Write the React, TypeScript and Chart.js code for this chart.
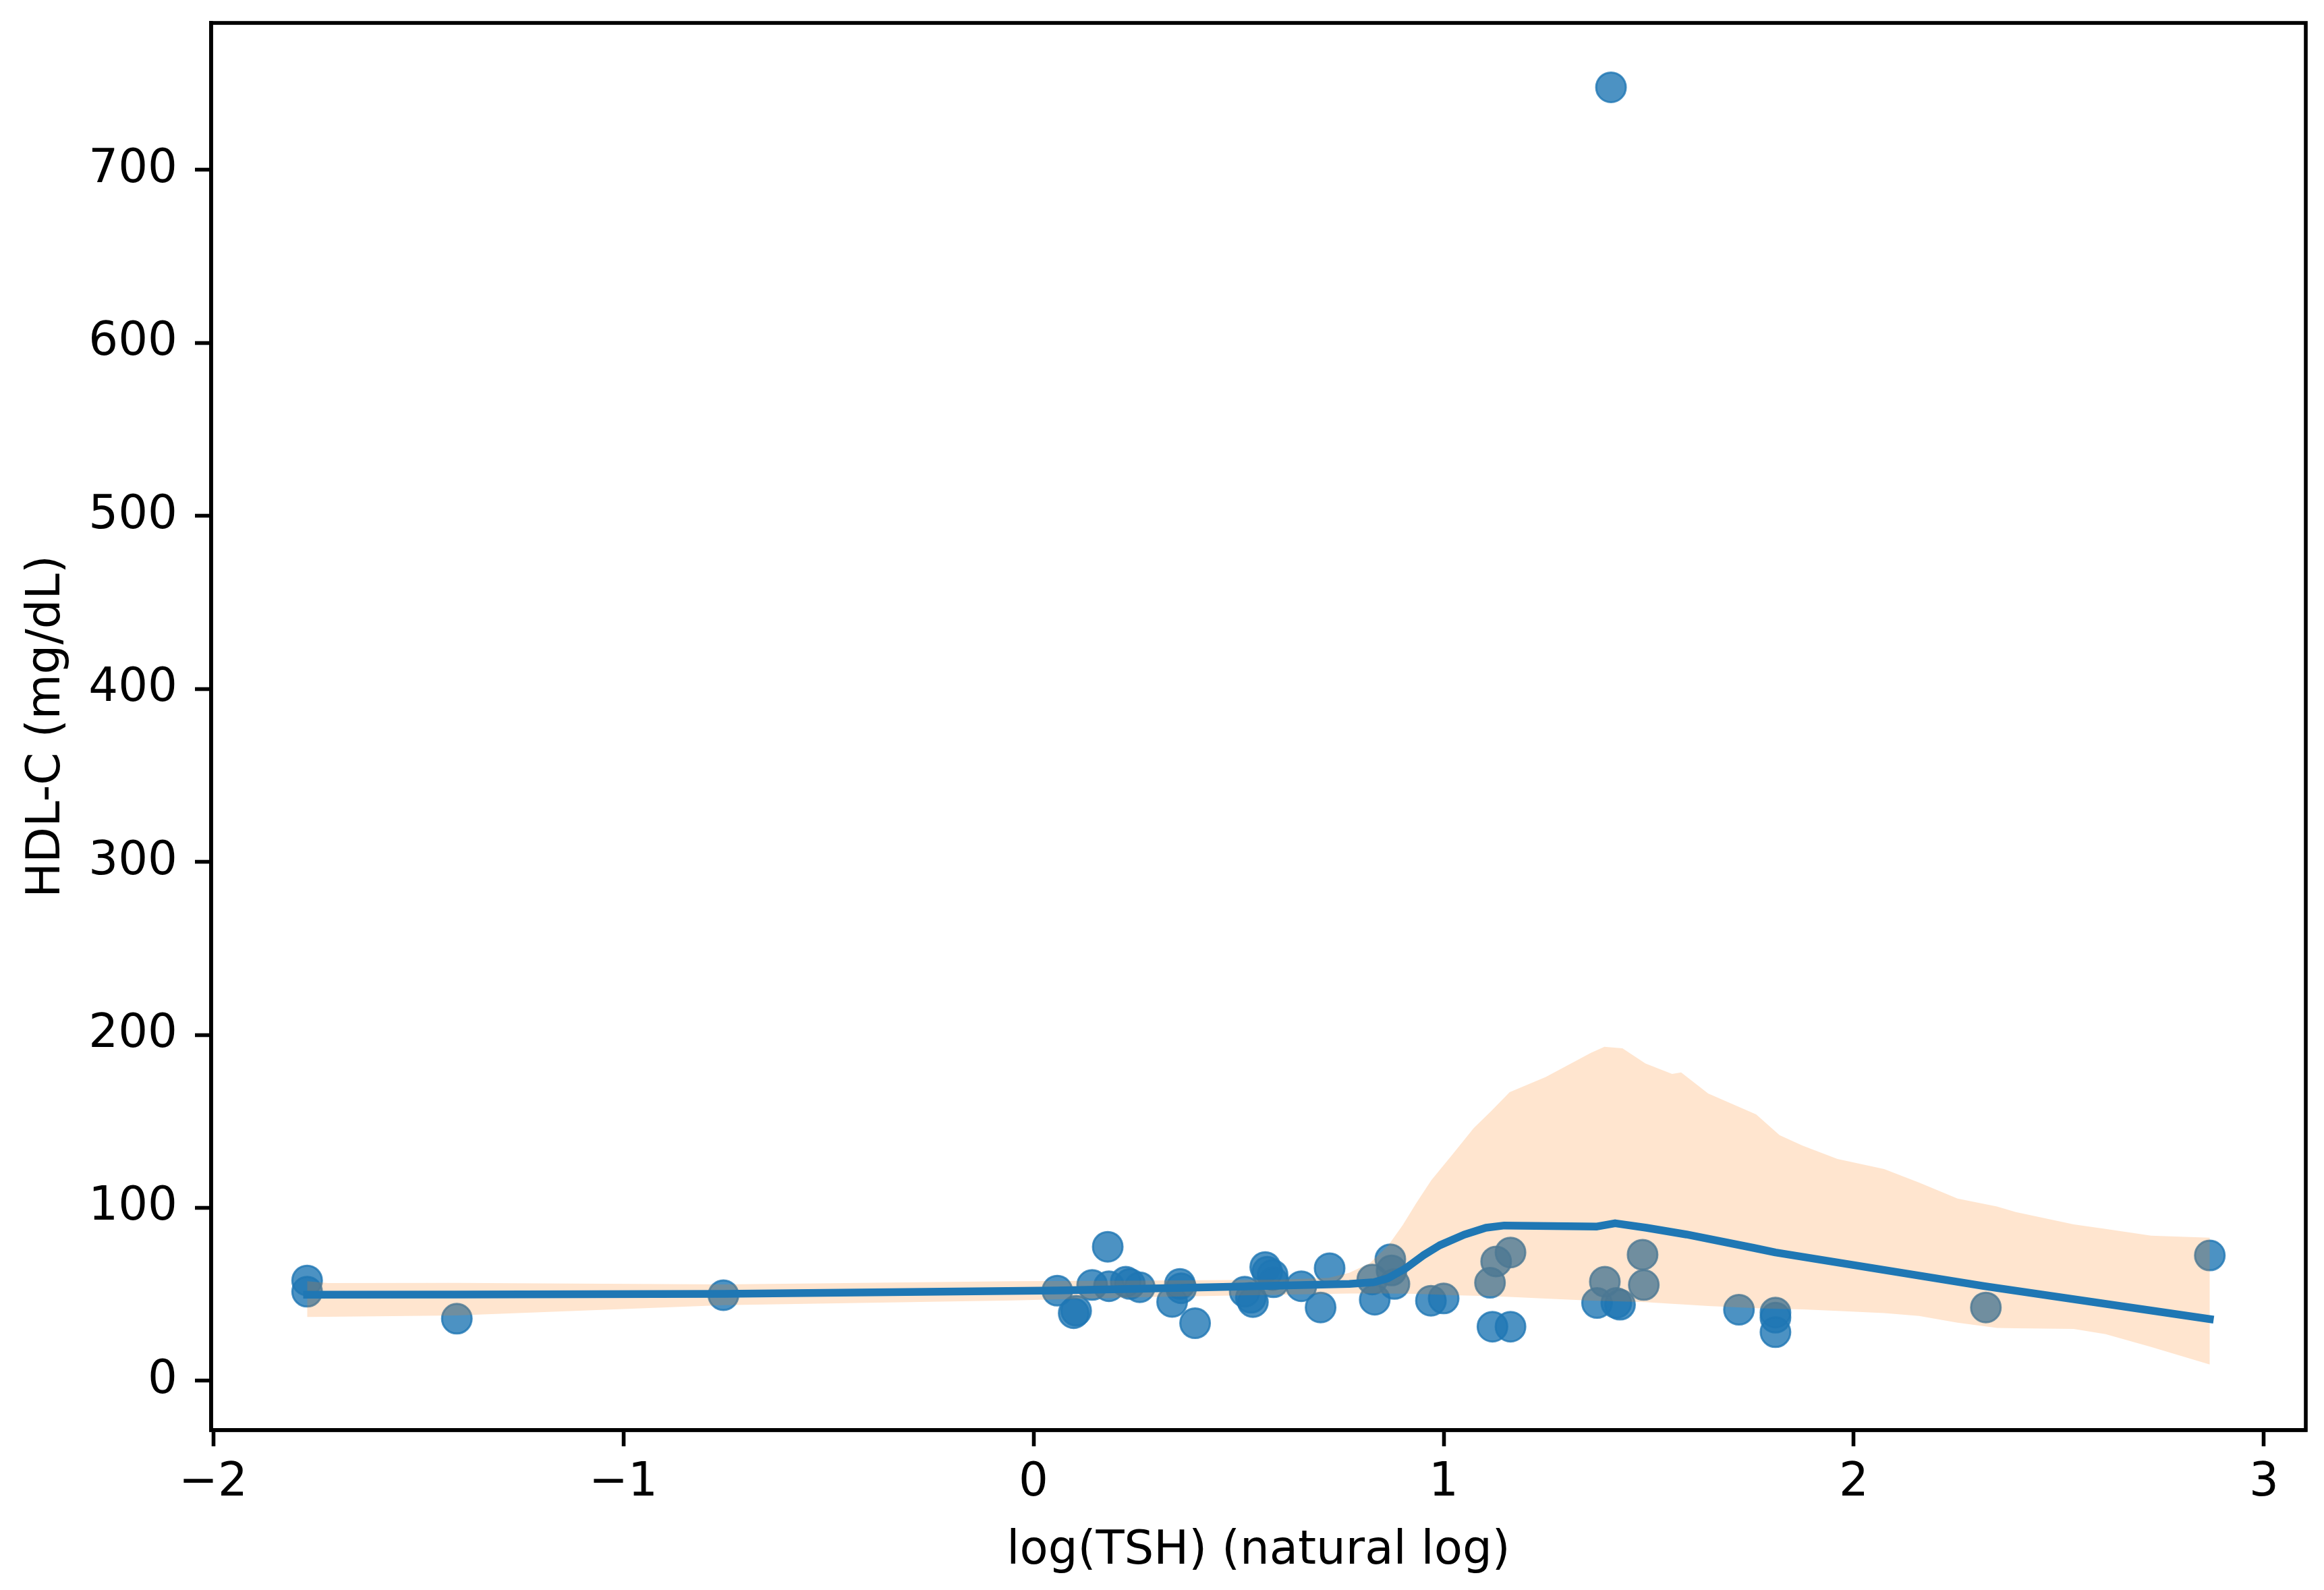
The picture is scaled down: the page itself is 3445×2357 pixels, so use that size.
import Chart from 'chart.js/auto'
import React, { useEffect, useRef } from 'react'

// scatter points: log(TSH) vs HDL-C
const tshLog = [
  -1.771, -1.771, -1.406, -0.756, 0.058, 0.098, 0.104, 0.143, 0.181, 0.184,
  0.225, 0.235, 0.259, 0.338, 0.357, 0.36, 0.394, 0.515, 0.53, 0.535,
  0.565, 0.57, 0.583, 0.585, 0.653, 0.7, 0.722, 0.826, 0.832, 0.87,
  0.873, 0.88, 0.969, 1.0, 1.113, 1.128, 1.119, 1.163, 1.163, 1.374,
  1.393, 1.408, 1.421, 1.43, 1.485, 1.488, 1.72, 1.809, 1.809, 1.809,
  2.322, 2.868
]
const hdl = [
  58.0, 51.5, 35.9, 49.5, 52.1, 39.1, 40.5, 55.4, 77.5, 54.7,
  57.3, 56.0, 54.1, 45.6, 56.0, 53.5, 33.3, 51.5, 48.0, 45.5,
  65.8, 63.0, 61.2, 57.0, 54.7, 42.4, 65.1, 58.6, 46.9, 70.3,
  63.8, 56.0, 46.3, 47.6, 56.7, 69.0, 31.3, 31.3, 74.2, 45.0,
  57.3, 747.8, 45.0, 44.0, 72.9, 55.4, 41.1, 39.5, 36.5, 28.1,
  42.4, 72.5
]

// lowess fit
const lowessX = [
  -1.771, -1.406, -0.756, 0.058, 0.5, 0.77, 0.83, 0.864, 0.908, 0.95, 0.99,
  1.05, 1.103, 1.148, 1.374, 1.418, 1.494, 1.592, 1.757, 1.809, 2.319, 2.868
]
const lowessY = [
  49.8, 49.9, 50.3, 52.2, 54.5, 56.0, 57.0, 59.3, 65.1, 72.5, 78.3,
  84.5, 88.5, 89.8, 89.2, 91.1, 88.5, 84.6, 76.8, 74.2, 54.7, 35.7
]

// confidence band
const bandX = [
  -1.771, -1.72, -1.406, -0.756, -0.05, 0.3, 0.6, 0.72, 0.77, 0.82, 0.864,
  0.9, 0.934, 0.97, 1.022, 1.073, 1.116, 1.161, 1.249, 1.359, 1.392, 1.436, 1.492,
  1.557, 1.579, 1.645, 1.762, 1.819, 1.875, 1.96, 2.074, 2.159, 2.253,
  2.349, 2.395, 2.536, 2.614, 2.725, 2.868
]
const bandUpper = [
  57.6, 56.5, 56.6, 55.7, 57.6, 58.0, 58.5, 59.5, 62.5, 68.0, 78.0,
  90.0, 103.0, 116.0, 131.0, 146.0, 156.0, 166.9, 175.7, 189.6, 193.1, 192.2, 183.5,
  177.4, 178.3, 166.1, 154.0, 142.0, 136.0, 128.3, 122.4, 114.6, 105.4,
  100.8, 97.6, 90.4, 87.8, 83.9, 82.7
]
const bandLower = [
  36.9, 37.0, 37.8, 43.7, 46.5, 48.5, 49.8, 50.3, 50.5, 50.5, 50.5,
  50.4, 50.3, 50.0, 49.5, 49.2, 48.9, 48.5, 47.5, 46.4, 46.2, 45.9, 45.5,
  44.5, 44.2, 43.3, 42.0, 41.6, 41.3, 40.4, 39.2, 37.5, 33.6,
  30.6, 30.4, 30.0, 27.0, 19.6, 9.4
]

const xTicks = [-2, -1, 0, 1, 2, 3]
const yTicks = [0, 100, 200, 300, 400, 500, 600, 700]

const FONT = { family: 'DejaVu Sans', size: 69 }
const fmt = (v: number) => (v < 0 ? '\u2212' + Math.abs(v) : String(v))

const frame = {
  id: 'frame',
  afterDraw(chart: Chart) {
    const { ctx, chartArea: a } = chart
    ctx.save()
    ctx.strokeStyle = '#000'
    ctx.lineWidth = 5.6
    ctx.strokeRect(a.left, a.top, a.right - a.left, a.bottom - a.top)
    ctx.restore()
  }
}

const App: React.FC = () => {
  const canvasRef = useRef<HTMLCanvasElement | null>(null)
  const chartRef = useRef<Chart | null>(null)

  useEffect(() => {
    if (!canvasRef.current) return
    if (chartRef.current) chartRef.current.destroy()

    chartRef.current = new Chart(canvasRef.current, {
      type: 'line',
      data: {
        datasets: [
          {
            type: 'scatter',
            data: tshLog.map((x, i) => ({ x, y: hdl[i] })),
            backgroundColor: 'rgba(31, 119, 180, 0.8)',
            borderColor: 'rgba(31, 119, 180, 0.8)',
            borderWidth: 3,
            pointRadius: 22,
            order: 3
          },
          {
            data: bandX.map((x, i) => ({ x, y: bandLower[i] })),
            borderWidth: 0,
            pointRadius: 0,
            fill: false,
            order: 2
          },
          {
            data: bandX.map((x, i) => ({ x, y: bandUpper[i] })),
            borderWidth: 0,
            pointRadius: 0,
            fill: '-1',
            backgroundColor: 'rgba(255, 127, 14, 0.2)',
            order: 2
          },
          {
            data: lowessX.map((x, i) => ({ x, y: lowessY[i] })),
            borderColor: '#1f77b4',
            borderWidth: 11.5,
            borderCapStyle: 'square',
            borderJoinStyle: 'round',
            pointRadius: 0,
            fill: false,
            tension: 0,
            order: 0
          }
        ]
      },
      options: {
        animation: false,
        responsive: true,
        maintainAspectRatio: false,
        devicePixelRatio: 1,
        events: [],
        layout: { padding: { left: 0, top: 34, right: 27, bottom: 0 } },
        plugins: {
          legend: { display: false },
          tooltip: { enabled: false }
        },
        scales: {
          x: {
            type: 'linear',
            min: -2.005,
            max: 3.102,
            afterBuildTicks: (s: any) => {
              s.ticks = xTicks.map((value) => ({ value }))
            },
            afterFit: (s: any) => {
              s.height = 237
              s.paddingLeft = 0
              s.paddingRight = 0
            },
            ticks: {
              color: '#000',
              font: FONT,
              padding: 14,
              maxRotation: 0,
              autoSkip: false,
              callback: (v: any) => fmt(Number(v))
            },
            grid: {
              drawOnChartArea: false,
              tickLength: 24,
              tickWidth: 5.6,
              tickColor: '#000'
            },
            border: { display: true, color: '#000', width: 5.6 },
            title: {
              display: true,
              text: 'log(TSH) (natural log)',
              color: '#000',
              font: FONT,
              padding: { top: 0, bottom: 16 }
            }
          },
          y: {
            type: 'linear',
            min: -28.5,
            max: 785,
            afterBuildTicks: (s: any) => {
              s.ticks = yTicks.map((value) => ({ value }))
            },
            afterFit: (s: any) => {
              s.width = 313
              s.paddingTop = 0
              s.paddingBottom = 0
            },
            ticks: {
              color: '#000',
              font: FONT,
              padding: 26,
              autoSkip: false,
              callback: (v: any) => fmt(Number(v))
            },
            grid: {
              drawOnChartArea: false,
              tickLength: 24,
              tickWidth: 5.6,
              tickColor: '#000'
            },
            border: { display: true, color: '#000', width: 5.6 },
            title: {
              display: true,
              text: 'HDL-C (mg/dL)',
              color: '#000',
              font: FONT,
              padding: { top: 29, bottom: 0 }
            }
          }
        }
      },
      plugins: [frame]
    })

    return () => {
      if (chartRef.current) {
        chartRef.current.destroy()
        chartRef.current = null
      }
    }
  }, [])

  return (
    <div
      style={{
        position: 'absolute',
        left: 0,
        top: 0,
        width: 3445,
        height: 2357,
        background: '#fff'
      }}
    >
      <canvas ref={canvasRef}></canvas>
    </div>
  )
}

export default App
